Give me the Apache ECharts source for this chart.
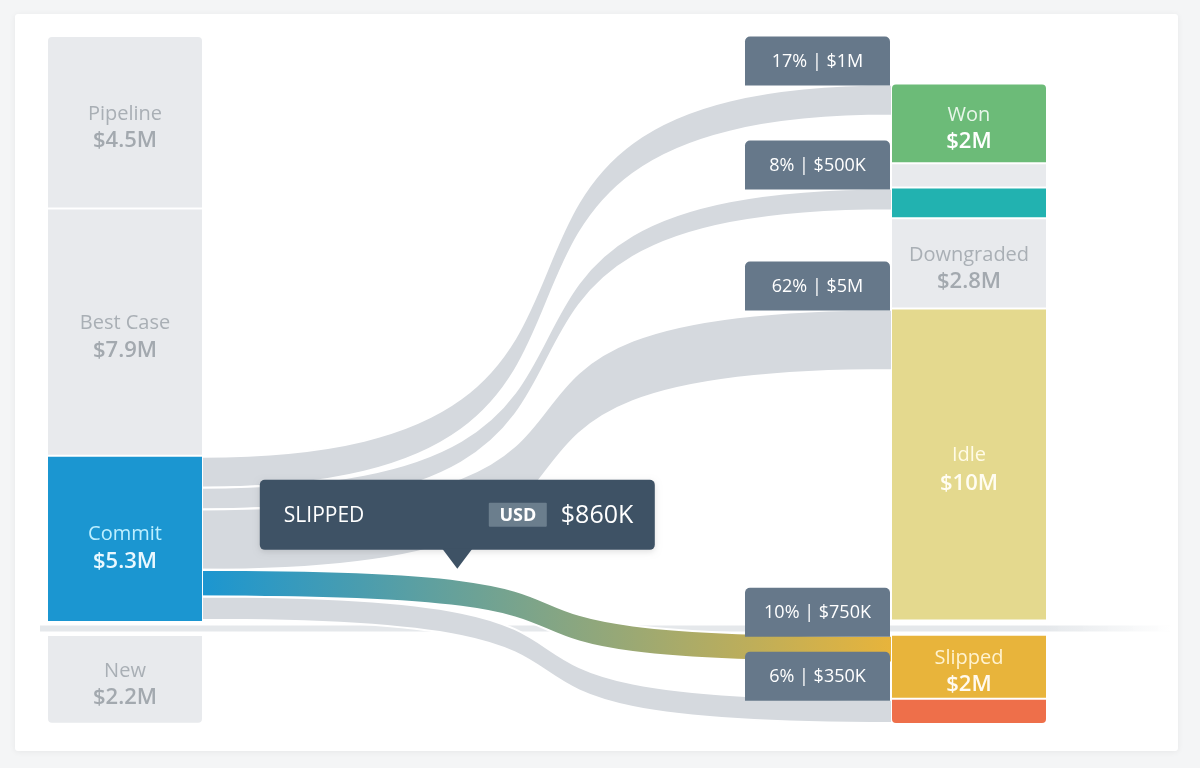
<!DOCTYPE html>
<html>
<head>
<meta charset="utf-8">
<script src="https://cdn.jsdelivr.net/npm/echarts@6/dist/echarts.min.js"></script>
<style>
  html, body { margin:0; padding:0; width:1200px; height:768px; overflow:hidden; background:#f4f5f6; }
  #card { position:absolute; left:15px; top:14px; width:1163px; height:737px; background:#ffffff;
          box-shadow:0 1px 6px rgba(0,0,0,0.06); border-radius:3px; }
  #chart { position:absolute; left:0; top:0; width:1200px; height:768px; }
</style>
</head>
<body>
<div id="card"></div>
<div id="chart"></div>
<script>
// ---------------- DATA ----------------
// left column (forecast categories)
const sourceNames   = ['Pipeline', 'Best Case', 'Commit', 'New'];
const sourceAmounts = [4.5, 7.9, 5.3, 2.2];          // $M printed on the boxes
const sourceSizes   = [5.5, 7.9, 5.3, 2.8];          // box heights ($M scale)

// right column (outcomes); unlabeled bands have null amounts
const outcomeNames   = ['Won', 'band_gray', 'band_teal', 'Downgraded', 'Idle', 'Slipped', 'band_red'];
const outcomeAmounts = [2, null, null, 2.8, 10, 2, null];
const outcomeSizes   = [2.5, 0.72, 0.93, 2.84, 10, 2, 0.75];

// empty space in the columns ($M scale)
const rightTopSpace = 1.47;
const leftSplitSpace = 0.35;
const rightSplitSpace = 0.39;

// flows out of "Commit"
const flowSource  = 'Commit';
const flowTargets = ['Won', 'band_teal', 'Idle', 'Slipped', 'band_red'];
const flowValues  = [1.0, 0.7, 1.95, 0.86, 0.75];
const flowLabels  = ['17% | $1M', '8% | $500K', '62% | $5M', '10% | $750K', '6% | $350K'];
const highlightedFlow = 3;
const currencyCode = 'USD';

// ---------------- STYLE ----------------
const FONT = '"Open Sans", "Noto Sans", sans-serif';
const nodeStyles = {
  'Pipeline':   { fill:'#e8eaed', name:'#a9afb5', value:'#a3a9af', radius:[4,4,0,0] },
  'Best Case':  { fill:'#e8eaed', name:'#a9afb5', value:'#a3a9af' },
  'Commit':     { fill:'#1b96d1', name:'#bdefff', value:'#eaf8ff', dy: 9 },
  'New':        { fill:'#e8eaed', name:'#a9afb5', value:'#a3a9af', radius:[0,0,4,4] },
  'Won':        { fill:'#6cbb78', name:'#e8f6ea', value:'#ffffff', radius:[4,4,0,0] },
  'band_gray':  { fill:'#e8eaed' },
  'band_teal':  { fill:'#22b2b0' },
  'Downgraded': { fill:'#e8eaed', name:'#a9afb5', value:'#a3a9af' },
  'Idle':       { fill:'#e4d98e', name:'#fffbe6', value:'#fffdf2', lh: 29 },
  'Slipped':    { fill:'#e8b43b', name:'#fff3d0', value:'#fffaf0' },
  'band_red':   { fill:'#ee6f4a', radius:[0,0,4,4] }
};
const LEFT = 48, TOP = 37, RIGHT = 154, BOTTOM = 45, NODE_W = 154, GAP = 2;

function fmtMoney(v) {
  return v >= 1 ? '$' + v + 'M' : '$' + Math.round(v * 1000) + 'K';
}

function realNode(name, amount, size, depth) {
  const st = nodeStyles[name] || { fill:'#e8eaed' };
  const item = {
    name: name, value: size, depth: depth,
    itemStyle: { color: st.fill, borderWidth: 0, borderRadius: st.radius || 0 },
    label: { show: amount != null }
  };
  if (amount != null) {
    const lh = st.lh || 27;
    item.label = {
      show: true, position: 'inside', offset: [0, st.dy || 5],
      formatter: '{n|' + name + '}\n{v|' + fmtMoney(amount) + '}',
      rich: {
        n: { fontFamily: FONT, fontSize: 20, color: st.name, lineHeight: lh, align:'center' },
        v: { fontFamily: FONT, fontSize: 22, fontWeight: 600, color: st.value, lineHeight: lh, align:'center' }
      }
    };
  }
  return item;
}
function spaceNode(name, size, depth) {
  return { name: name, value: size, depth: depth,
           itemStyle: { color: 'rgba(0,0,0,0)', borderWidth: 0 },
           label: { show: false } };
}

const nodes = [];
sourceNames.forEach(function (n, i) {
  if (n === 'New') nodes.push(spaceNode('space_left', leftSplitSpace, 0));
  nodes.push(realNode(n, sourceAmounts[i], sourceSizes[i], 0));
});
nodes.push(spaceNode('space_top', rightTopSpace, 1));
outcomeNames.forEach(function (n, i) {
  if (n === 'Slipped') nodes.push(spaceNode('space_right', rightSplitSpace, 1));
  nodes.push(realNode(n, outcomeAmounts[i], outcomeSizes[i], 1));
});

const links = flowTargets.map(function (t, i) {
  const l = { source: flowSource, target: t, value: flowValues[i] };
  if (i === highlightedFlow) l.lineStyle = { color: 'gradient', opacity: 1 };
  return l;
});

const chart = echarts.init(document.getElementById('chart'), null, { renderer: 'canvas' });
chart.setOption({
  animation: false,
  backgroundColor: 'transparent',
  series: [{
    type: 'sankey',
    left: LEFT, top: TOP, right: RIGHT, bottom: BOTTOM,
    nodeWidth: NODE_W, nodeGap: GAP,
    layoutIterations: 0, nodeAlign: 'left', draggable: false,
    emphasis: { disabled: true },
    data: nodes,
    links: links,
    lineStyle: { color: '#d5d9de', opacity: 1, curveness: 0.78, borderColor: '#ffffff', borderWidth: 2 }
  }]
});

// ---------- overlays placed from the library's computed sankey layout ----------
function buildOverlays() {
  const seriesModel = chart.getModel().getSeriesByIndex(0);
  const graph = seriesModel.getGraph();
  const box = seriesModel.layoutInfo || { x: LEFT, y: TOP, width: 1200 - LEFT - RIGHT, height: 768 - TOP - BOTTOM };
  const idx = function (name) { return nodes.findIndex(function (n) { return n.name === name; }); };
  const L = function (name) { return graph.getNodeByIndex(idx(name)).getLayout(); };

  const g = [];

  // divider between current-quarter rows and "New"
  const commit = L('Commit'), fresh = L('New');
  const midY = box.y + (commit.y + commit.dy + fresh.y) / 2;
  const x0 = box.x - 8, x1 = box.x + box.width + 125;
  const solidEnd = (box.x + box.width - x0) / (x1 - x0);
  g.push({
    type: 'rect', z: 0, silent: true,
    shape: { x: x0, y: midY - 3, width: x1 - x0, height: 6 },
    style: { fill: new echarts.graphic.LinearGradient(0, 0, 1, 0, [
      { offset: 0, color: '#e5e8eb' }, { offset: solidEnd, color: '#e5e8eb' },
      { offset: 1, color: 'rgba(229,232,235,0)' }]) }
  });

  // flow labels sitting on top of each flow's end
  flowLabels.forEach(function (txt, i) {
    const e = graph.getEdgeByIndex(i);
    const el = e.getLayout();
    const t = e.node2.getLayout();
    const topY = box.y + t.y + el.ty + 1;
    const right = box.x + t.x - 2;
    const w = 145, h = 49;
    g.push({ type: 'rect', z: 10, silent: true,
      shape: { x: right - w, y: topY - h, width: w, height: h, r: [5, 5, 0, 0] },
      style: { fill: '#66788a' } });
    g.push({ type: 'text', z: 11, silent: true, x: right - w / 2, y: topY - h / 2 + 1,
      style: { text: txt, fill: '#ffffff', font: '400 18px ' + FONT, textAlign: 'center', textVerticalAlign: 'middle' } });
  });

  // callout for the highlighted flow
  const he = graph.getEdgeByIndex(highlightedFlow);
  const hl = he.getLayout();
  const s = he.node1.getLayout(), tt = he.node2.getLayout();
  const sx = box.x + s.x + s.dx, tx = box.x + tt.x;
  const tipX = sx + 0.37 * (tx - sx);
  const tipY = box.y + s.y + hl.sy - 1;
  const cw = 395, ch = 70, arrow = 19;
  const cl = tipX - cw / 2, ct = tipY - arrow - ch;
  g.push({ type: 'rect', z: 20, silent: true,
    shape: { x: cl, y: ct, width: cw, height: ch, r: 5 },
    style: { fill: '#3e5265', shadowBlur: 6, shadowColor: 'rgba(0,0,0,0.12)', shadowOffsetY: 2 } });
  g.push({ type: 'polygon', z: 20, silent: true,
    shape: { points: [[tipX - 15, ct + ch - 1], [tipX + 15, ct + ch - 1], [tipX, tipY]] },
    style: { fill: '#3e5265' } });
  const targetName = flowTargets[highlightedFlow].toUpperCase();
  g.push({ type: 'text', z: 21, silent: true, x: cl + 24, y: ct + ch / 2 + 1,
    style: { text: targetName, fill: '#ffffff', font: '400 21px ' + FONT, textVerticalAlign: 'middle' } });
  g.push({ type: 'rect', z: 21, silent: true,
    shape: { x: cl + cw - 166, y: ct + ch / 2 - 12, width: 58, height: 24, r: 1 },
    style: { fill: '#6b7e8d' } });
  g.push({ type: 'text', z: 22, silent: true, x: cl + cw - 137, y: ct + ch / 2 + 1,
    style: { text: currencyCode, fill: '#ffffff', font: '700 18px ' + FONT, textAlign: 'center', textVerticalAlign: 'middle' } });
  g.push({ type: 'text', z: 22, silent: true, x: cl + cw - 94, y: ct + ch / 2 + 1,
    style: { text: fmtMoney(flowValues[highlightedFlow]), fill: '#ffffff', font: '400 25px ' + FONT, textVerticalAlign: 'middle' } });

  chart.setOption({ graphic: { elements: g } });
}
buildOverlays();
</script>
</body>
</html>
